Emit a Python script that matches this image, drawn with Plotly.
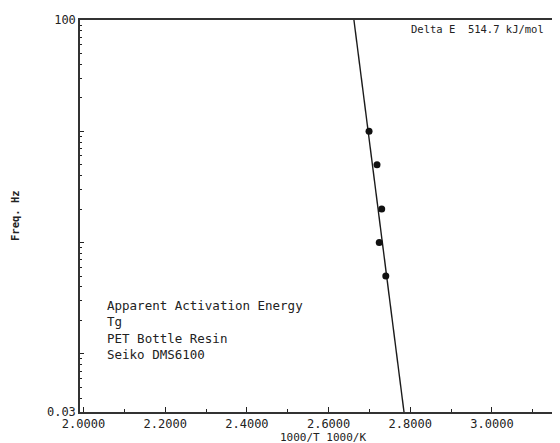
import plotly.graph_objects as go

# measured points (1000/T, Freq Hz)
inv_T = [2.699, 2.7185, 2.730, 2.724, 2.740]
freq = [10, 5, 2, 1, 0.5]

# fitted Arrhenius line endpoints
fit_x = [2.662, 2.7846]
fit_y = [100, 0.03]

x_ticks = [2.0, 2.2, 2.4, 2.6, 2.8, 3.0]
x_ticktext = ["2.0000", "2.2000", "2.4000", "2.6000", "2.8000", "3.0000"]
x_minor = [2.1, 2.3, 2.5, 2.7, 2.9, 3.1]

y_ticks = [0.03, 0.1, 1, 10, 100]
y_ticktext = ["0.03", "", "", "", "100"]
y_minor = [0.04, 0.05, 0.06, 0.07, 0.08, 0.09,
           0.2, 0.3, 0.4, 0.5, 0.6, 0.7, 0.8, 0.9,
           2, 3, 4, 5, 6, 7, 8, 9,
           20, 30, 40, 50, 60, 70, 80, 90]

info_lines = ["Apparent Activation Energy", "Tg", "PET Bottle Resin", "Seiko DMS6100"]
delta_e = "Delta E  514.7 kJ/mol"
x_title = "1000/T 1000/K"
y_title = "Freq. Hz"

mono = "DejaVu Sans Mono"
ink = "#222222"

fig = go.Figure()
fig.add_trace(go.Scatter(x=fit_x, y=fit_y, mode="lines",
                         line=dict(color="#1a1a1a", width=1.4), showlegend=False))
fig.add_trace(go.Scatter(x=inv_T, y=freq, mode="markers",
                         marker=dict(color="#111111", size=7), showlegend=False))

# page body has an 8px margin, so the figure is shifted by 8px
fig.update_layout(
    width=552, height=435,
    margin=dict(l=72, r=0, t=12, b=31, autoexpand=False),
    paper_bgcolor="white", plot_bgcolor="white",
    font=dict(family=mono, color=ink, size=12),
    xaxis=dict(range=[1.9914, 3.1665], tickvals=x_ticks, ticktext=x_ticktext,
               ticks="inside", ticklen=5, tickwidth=1, tickcolor=ink,
               minor=dict(tickvals=x_minor, ticks="inside", ticklen=3, tickcolor=ink),
               showline=True, linecolor="#333333", linewidth=1.5, mirror=True,
               showgrid=False, zeroline=False, automargin=False,
               tickfont=dict(family=mono, size=12, color=ink)),
    yaxis=dict(type="log", range=[-1.5229, 2], tickvals=y_ticks, ticktext=y_ticktext,
               ticks="inside", ticklen=4, tickwidth=1, tickcolor=ink,
               minor=dict(tickvals=y_minor, ticks="inside", ticklen=2, tickcolor=ink),
               showline=True, linecolor="#333333", linewidth=1.5,
               showgrid=False, zeroline=False, automargin=False,
               tickfont=dict(family=mono, size=12, color=ink)),
)

fig.add_annotation(text=x_title, xref="paper", yref="paper", x=0.507, y=0,
                   xanchor="center", yanchor="middle", yshift=-25, showarrow=False,
                   font=dict(family=mono, size=11, color=ink))
fig.add_annotation(text="<b>" + y_title + "</b>", xref="paper", yref="paper", x=0, y=0.5,
                   xanchor="center", yanchor="middle", xshift=-65, textangle=-90,
                   showarrow=False, font=dict(family=mono, size=10.5, color=ink))
fig.add_annotation(text=delta_e, xref="paper", yref="paper", x=0.685, y=0.978,
                   xanchor="left", yanchor="middle", showarrow=False,
                   font=dict(family=mono, size=10.5, color=ink))
fig.add_annotation(text="<br>".join(info_lines), xref="paper", yref="paper",
                   x=0.052, y=0.296, xanchor="left", yanchor="top", align="left",
                   showarrow=False, font=dict(family=mono, size=12.5, color=ink))

fig.write_html("out.html")
